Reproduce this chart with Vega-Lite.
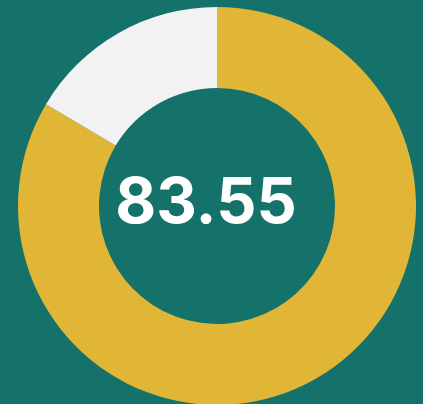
{
  "$schema": "https://vega.github.io/schema/vega-lite/v6.json",
  "width": 423,
  "height": 404,
  "autosize": {"type": "fit", "contains": "padding"},
  "padding": {"left": 11, "top": 8, "right": 0, "bottom": 0},
  "background": "#14726a",
  "config": {"view": {"stroke": null}},
  "data": {"values": [
    {"part": "value", "amount": 83.55, "order": 1, "label": "83.55"},
    {"part": "rest", "amount": 16.45, "order": 2, "label": ""}
  ]},
  "layer": [
    {
      "mark": {"type": "arc", "radius": 199, "innerRadius": 118},
      "encoding": {
        "theta": {"field": "amount", "type": "quantitative", "stack": true},
        "order": {"field": "order", "type": "quantitative"},
        "color": {"field": "part", "type": "nominal", "scale": {"domain": ["value", "rest"], "range": ["#e1b637", "#f2f2f2"]}, "legend": null}
      }
    },
    {
      "transform": [{"filter": "datum.order == 1"}],
      "mark": {"type": "text", "font": "Inter", "fontWeight": "bold", "fontSize": 63, "color": "white", "baseline": "middle", "align": "center", "dx": -11, "dy": -2},
      "encoding": {"text": {"field": "label"}}
    }
  ]
}
